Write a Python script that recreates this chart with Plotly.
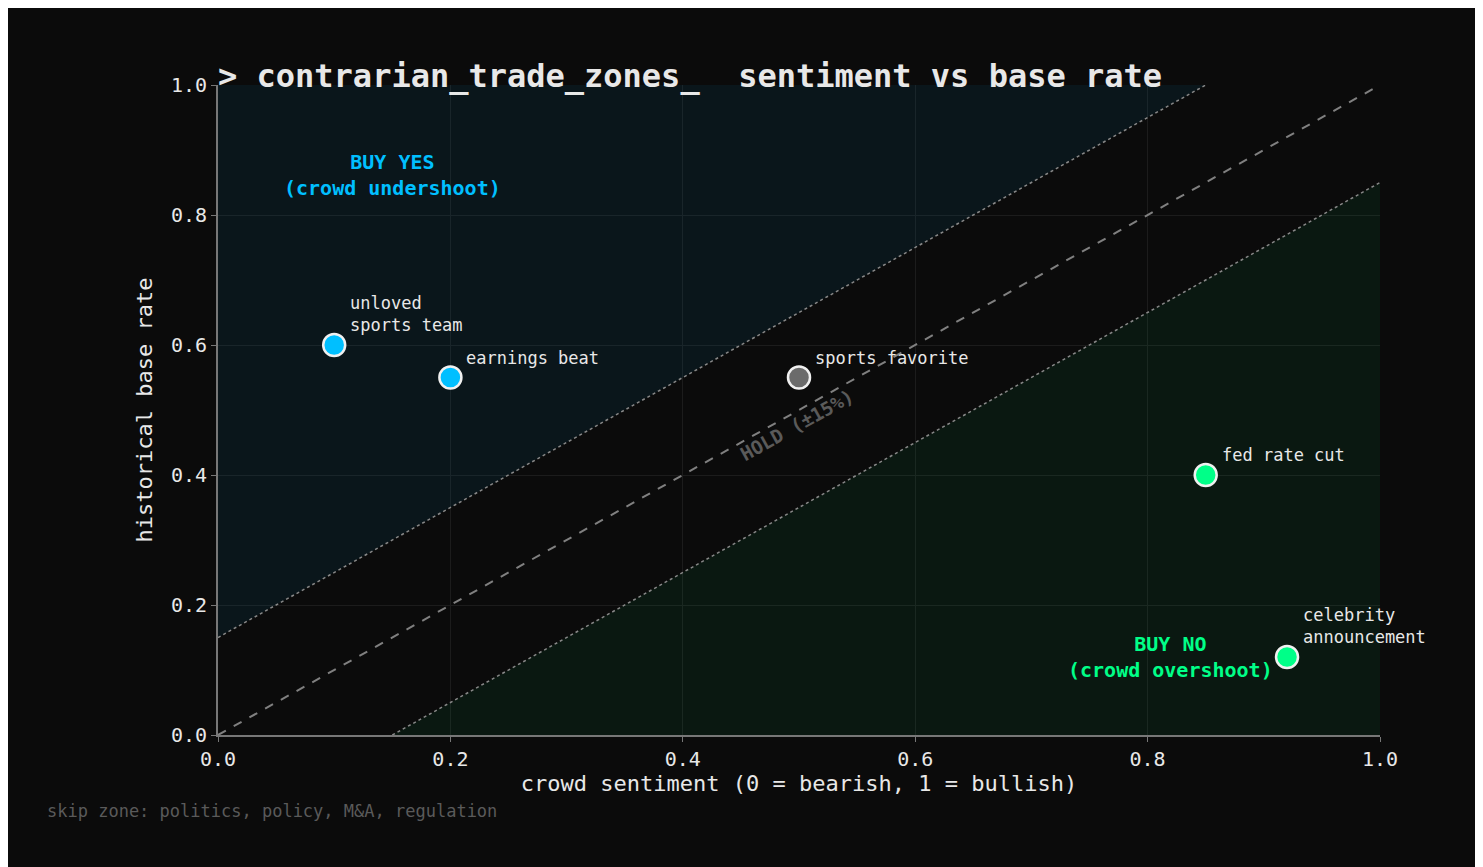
import plotly.graph_objects as go

names = ["unloved<br>sports team", "earnings beat", "sports favorite", "fed rate cut", "celebrity<br>announcement"]
sentiment = [0.10, 0.20, 0.50, 0.85, 0.92]
base_rate = [0.60, 0.55, 0.55, 0.40, 0.12]
colors = ["#00bfff", "#00bfff", "#6b6b6b", "#00ff88", "#00ff88"]
band = 0.15

F = "DejaVu Sans Mono"
fig = go.Figure()
fig.add_trace(go.Scatter(x=[0, 1 - band, 0, 0], y=[band, 1, 1, band], fill="toself",
                         fillcolor="rgba(0,150,220,0.08)", line=dict(width=0), mode="lines",
                         hoverinfo="skip", showlegend=False))
fig.add_trace(go.Scatter(x=[band, 1, 1, band], y=[0, 1 - band, 0, 0], fill="toself",
                         fillcolor="rgba(0,200,100,0.07)", line=dict(width=0), mode="lines",
                         hoverinfo="skip", showlegend=False))
fig.add_trace(go.Scatter(x=[0, 1 - band], y=[band, 1], mode="lines",
                         line=dict(color="#888", width=1.5, dash="dot"), showlegend=False))
fig.add_trace(go.Scatter(x=[band, 1], y=[0, 1 - band], mode="lines",
                         line=dict(color="#888", width=1.5, dash="dot"), showlegend=False))
fig.add_trace(go.Scatter(x=[0, 1], y=[0, 1], mode="lines",
                         line=dict(color="#808080", width=2, dash="dash"), showlegend=False))
fig.add_trace(go.Scatter(x=sentiment, y=base_rate, mode="markers",
                         marker=dict(size=22, color=colors, line=dict(color="#f0f0f0", width=2.5)),
                         showlegend=False))
for n, x, y in zip(names, sentiment, base_rate):
    fig.add_annotation(x=x, y=y, text=n, showarrow=False, xanchor="left", yanchor="bottom",
                       xshift=14, yshift=8, align="left", font=dict(family=F, size=17, color="#e8e8e8"))

fig.add_annotation(x=0.15, y=0.862, text="<b>BUY YES<br>(crowd undershoot)</b>", showarrow=False,
                   font=dict(family=F, size=20, color="#00bfff"), align="center")
fig.add_annotation(x=0.82, y=0.12, text="<b>BUY NO<br>(crowd overshoot)</b>", showarrow=False,
                   font=dict(family=F, size=20, color="#00ff88"), align="center")
fig.add_annotation(x=0.498, y=0.477, text="<b>HOLD (±15%)</b>", showarrow=False, textangle=-29,
                   font=dict(family=F, size=19, color="#5a5a5a"))
fig.add_annotation(xref="paper", yref="paper", x=-0.149, y=-0.135, text="skip zone: politics, policy, M&A, regulation",
                   showarrow=False, xanchor="left", font=dict(family=F, size=17, color="#5a5a5a"))

ax = dict(range=[0, 1], dtick=0.2, tickformat=".1f", showgrid=True, gridcolor="#1c1c1c",
          zeroline=False, showline=True, linecolor="#777", linewidth=2, ticks="outside",
          ticklen=5, tickcolor="#777", tickfont=dict(family=F, size=20, color="#e8e8e8"))
fig.update_xaxes(**ax, title=dict(text="crowd sentiment (0 = bearish, 1 = bullish)",
                 font=dict(family=F, size=22, color="#e8e8e8"), standoff=6))
fig.update_yaxes(**ax, title=dict(text="historical base rate",
                 font=dict(family=F, size=22, color="#e8e8e8"), standoff=12))
fig.update_layout(width=1483, height=867, paper_bgcolor="#0b0b0b", plot_bgcolor="#0b0b0b",
                  margin=dict(l=210, r=111, t=77, b=140),
                  title=dict(text="<b>> contrarian_trade_zones_  sentiment vs base rate</b>", x=210/1483,
                             xanchor="left", y=0.935, font=dict(family=F, size=32, color="#e8e8e8")))
fig.write_html("out.html")
